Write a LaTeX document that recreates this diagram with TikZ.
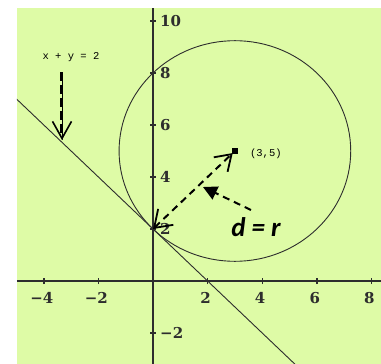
\documentclass[tikz,border=0pt]{standalone}
\usepackage{fontspec}
\setmainfont{Liberation Serif}
\newfontfamily\monofont{Liberation Mono}
\newfontfamily\tickfont{DejaVu Serif}
\newfontfamily\calfont{Carlito}
\usetikzlibrary{arrows.meta}
\definecolor{bg}{RGB}{222,251,166}
\definecolor{ink}{RGB}{45,45,45}
\begin{document}
\begin{tikzpicture}[x=1pt,y=-1pt,
  ticklab/.style={font=\tickfont\bfseries\fontsize{15}{15}\selectfont, text=ink, inner sep=0pt},
  smalllab/.style={font=\monofont\fontsize{10.5}{11}\selectfont, text=black, inner sep=0pt},
  axisline/.style={draw=ink, line width=1.4pt},
  curve/.style={draw=ink, line width=0.9pt},
  dashpat/.style={line width=2pt, dash pattern=on 7pt off 5pt}
]
\useasboundingbox (0,0) rectangle (381,364);
\fill[bg] (17,8) rectangle (381,364);
\begin{scope}[shift={(153,281)}, x=27.3pt, y=26pt]
  \clip (-4.982,10.5) rectangle (8.36,-3.193);
  % axes
  \draw[axisline] (-5,0) -- (8.4,0);
  \draw[axisline] (0,-3.3) -- (0,10.6);
  \foreach \t/\l in {-4/{−4},-2/{−2},2/2,4/4,6/6,8/8}{
    \draw[axisline] (\t,0) +(0pt,-3pt) -- +(0pt,3pt);
    \node[ticklab, anchor=north, xshift=-2pt, yshift=-11pt] (xl\t) at (\t,0) {\l};
  }
  \foreach \t/\l in {-2/{−2},2/2,4/4,6/6,8/8,10/10}{
    \draw[axisline] (0,\t) +(-3pt,0pt) -- +(3pt,0pt);
    \node[ticklab, anchor=west, xshift=7pt] (yl\t) at (0,\t) {\l};
  }
  % circle and line
  \draw[curve] (3,5) circle [radius=4.2426];
  \draw[curve] (-5.5,7.5) -- (5.5,-3.5);
  % points
  \coordinate (P) at (0,2);
  \coordinate (C) at (3,5);
  \node[fill=black, minimum size=6pt, inner sep=0pt] (sq) at (C) {};
  \node[smalllab, anchor=west, xshift=15pt, yshift=-3pt] (cl) at (C) {(3,5)};
  \draw[dashpat, {Straight Barb[length=16pt,width=22pt,line width=1.8pt]}-{Straight Barb[length=15pt,width=20pt,line width=1.8pt]}, shorten >=3pt] (P) -- (C);
\end{scope}
% label of the line
\node[smalllab] (eq) at (71,57) {x + y = 2};
\coordinate (a1) at (62,72);
\coordinate (a2) at (62,140);
\draw[ink, line width=1pt] (a1) -- (a2);
\draw[black, line width=2.4pt, dash pattern=on 9pt off 4pt, shorten >=6pt] ([xshift=-0.6pt]a1) -- ([xshift=-0.6pt]a2);
\draw[black, line width=1pt, -{Straight Barb[length=17pt,width=19pt,line width=1.6pt]}] (a1) -- (a2);
% pointer to d = r
\coordinate (q1) at (251,210);
\coordinate (q2) at (203,187);
\draw[black, dashpat, -{Triangle[length=14pt,width=14pt]}] (q1) -- (q2);
\node[font=\calfont\bfseries\itshape\fontsize{27}{27}\selectfont, inner sep=0pt] (dr) at (256,227) {d = r};
\end{tikzpicture}
\end{document}
